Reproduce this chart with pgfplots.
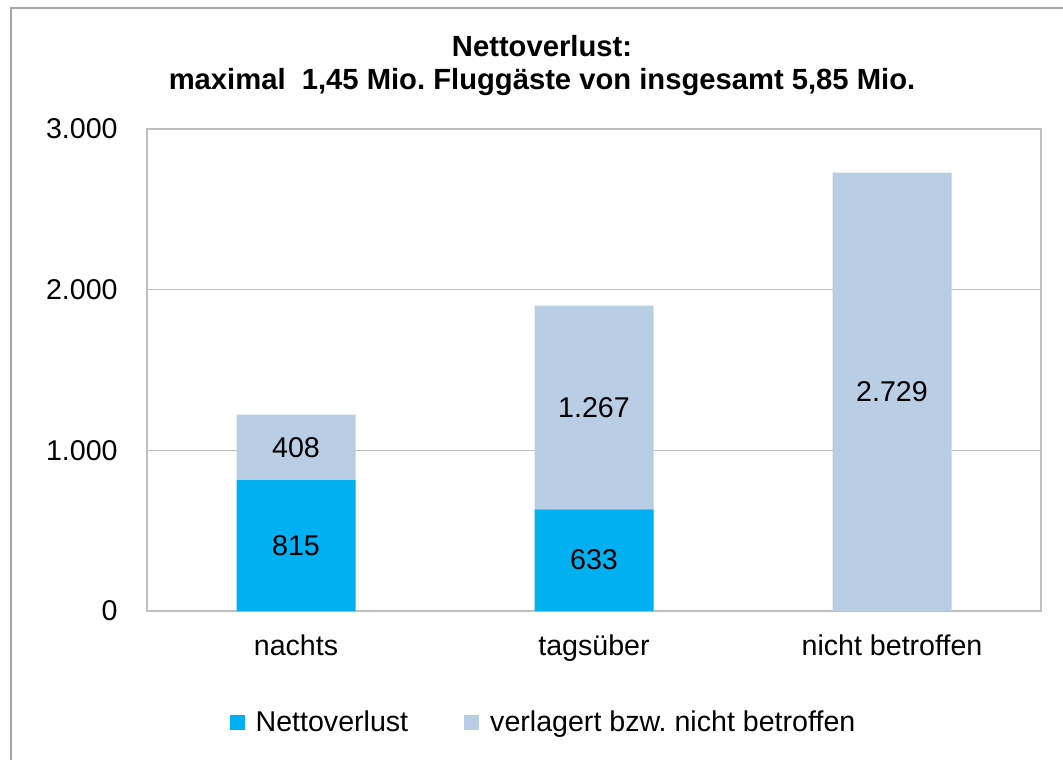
\documentclass[border=0pt]{standalone}
\usepackage{fontspec}
\setmainfont{Liberation Sans}
\usepackage{pgfplots}
\pgfplotsset{compat=1.18}
\definecolor{netto}{HTML}{00B0F0}
\definecolor{verl}{HTML}{B9CDE5}
\definecolor{gridc}{HTML}{BFBFBF}
\definecolor{framec}{HTML}{A6A6A6}
\newcommand{\fs}{\fontsize{14.3}{17}\selectfont}
\frenchspacing
\begin{document}
\begin{tikzpicture}
\path[use as bounding box] (0,0) rectangle (531.5pt,379.5pt);
\draw[framec, line width=1.2pt] (5.5pt,-2pt) -- (5.5pt,375.5pt) -- (533pt,375.5pt);
\node[anchor=base, font=\fontsize{14.6}{17}\selectfont\bfseries] at (271pt,351pt) {Nettoverlust:};
\node[anchor=base, font=\fontsize{14.6}{17}\selectfont\bfseries] at (271pt,334.5pt) {maximal\ \ 1,45 Mio. Fluggäste von insgesamt 5,85 Mio.};
\begin{axis}[
 at={(73.5pt,74pt)}, anchor=south west,
 scale only axis, width=447pt, height=241pt,
 ybar stacked, bar width=59.5pt,
 xmin=-0.5, xmax=2.5, ymin=0, ymax=3000,
 xtick={0,1,2}, xticklabels={nachts,tagsüber,nicht betroffen},
 ytick={0,1000,2000,3000},
 yticklabels={0,1.000,2.000,3.000},
 major tick length=0pt,
 ymajorgrids, grid style={gridc, line width=0.8pt},
 axis line style={gridc, line width=0.8pt},
 tick label style={font=\fs},
 yticklabel style={anchor=east, inner sep=0pt, xshift=-14.5pt},
 xticklabel style={anchor=base, inner sep=0pt, yshift=-22pt},
 point meta=explicit symbolic,
 nodes near coords,
 every node near coord/.append style={font=\fs, anchor=center},
 legend columns=2,
 legend style={at={(0.4446,-0.232)}, anchor=center, draw=none, font=\fs,
   /tikz/every even column/.append style={column sep=26pt}},
 legend image code/.code={\fill[#1] (0pt,-3.6pt) rectangle (7.5pt,3.9pt); \path (11pt,0pt);},
]
\addplot[fill=netto, draw=none] coordinates {(0,815) [815] (1,633) [633] (2,0) []};
\addplot[fill=verl, draw=none] coordinates {(0,408) [408] (1,1267) [1.267] (2,2729) [2.729]};
\legend{Nettoverlust, verlagert bzw. nicht betroffen}
\end{axis}
\end{tikzpicture}
\end{document}
